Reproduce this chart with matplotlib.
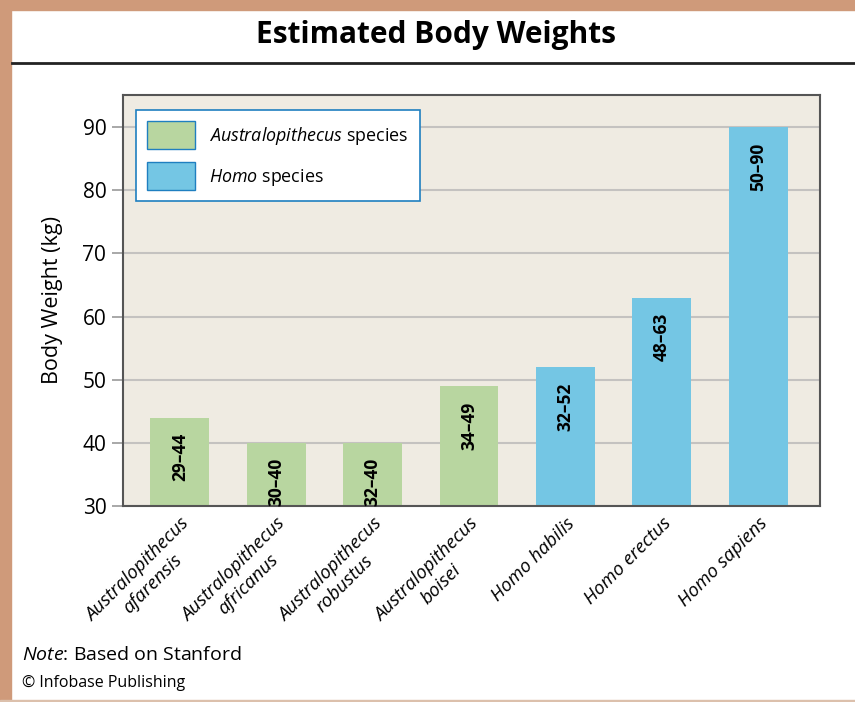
import matplotlib
matplotlib.use("Agg")
import matplotlib.pyplot as plt
from matplotlib.patches import Rectangle, Patch
from matplotlib.lines import Line2D

plt.rcParams['font.family'] = ['Open Sans', 'DejaVu Sans']
plt.rcParams['mathtext.fontset'] = 'custom'
plt.rcParams['mathtext.it'] = 'Open Sans:italic'
plt.rcParams['mathtext.rm'] = 'Open Sans'

species = ["Australopithecus\nafarensis", "Australopithecus\nafricanus",
           "Australopithecus\nrobustus", "Australopithecus\nboisei",
           "Homo habilis", "Homo erectus", "Homo sapiens"]
low_kg = [29, 30, 32, 34, 32, 48, 50]
high_kg = [44, 40, 40, 49, 52, 63, 90]
genus = ["A", "A", "A", "A", "H", "H", "H"]

green = "#b8d6a0"
blue = "#74c6e4"
border = "#cf9a7a"

fig = plt.figure(figsize=(8.55, 7.02), dpi=100)
W, H = 855, 702

# page frame
fig.patches.append(Rectangle((0, 0), 11 / W, 1, transform=fig.transFigure, color=border, zorder=0))
fig.patches.append(Rectangle((0, 1 - 10 / H), 1, 10 / H, transform=fig.transFigure, color=border, zorder=0))
fig.patches.append(Rectangle((0, 0), 1, 2 / H, transform=fig.transFigure, color="#dcc0ac", zorder=0))
fig.lines.append(Line2D([12 / W, 1], [1 - 63 / H] * 2, transform=fig.transFigure, color="#222222", lw=2))

fig.text(436 / W, 1 - 35 / H, "Estimated Body Weights", ha="center", va="center",
         fontsize=21.5, fontweight="bold")

ax = fig.add_axes([123 / W, 1 - 506 / H, (820 - 123) / W, (506 - 95) / H])
ax.set_facecolor("#efebe2")
x = range(len(species))
colors = [green if g == "A" else blue for g in genus]
ax.bar(x, high_kg, width=0.61, color=colors, zorder=2)

for xi, lo, hi in zip(x, low_kg, high_kg):
    ax.annotate(f"{lo}\u2013{hi}", (xi, hi), xytext=(0, -11), textcoords="offset points",
                rotation=90, ha="center", va="top", fontsize=12.5, fontweight="bold", zorder=3)

ax.set_ylim(30, 95.1)
ax.set_xlim(-0.59, 6.64)
ax.set_yticks(range(30, 100, 10))
ax.yaxis.grid(True, color="#c4c2c0", lw=1.5, zorder=1)
ax.tick_params(axis="y", labelsize=15, length=8, width=1.2, color="#999999", pad=4)
ax.tick_params(axis="x", length=0, pad=6)
ax.set_xticks(list(x))
ax.set_xticklabels(species, rotation=45, ha="right", va="top", rotation_mode="anchor",
                   fontsize=13.5, style="italic", multialignment="center")
for s in ax.spines.values():
    s.set_color("#555555")
    s.set_linewidth(1.5)
ax.set_ylabel("Body Weight (kg)", fontsize=15.5, labelpad=14)

handles = [Patch(facecolor=green, edgecolor="#1f7fc0", lw=1),
           Patch(facecolor=blue, edgecolor="#1f7fc0", lw=1)]
leg = ax.legend(handles, [r"$\it{Australopithecus}$ species", r"$\it{Homo}$ species"],
                loc="upper left", bbox_to_anchor=(13 / 697, 1 - 15 / 411), fontsize=12.9,
                fancybox=False, framealpha=1, handlelength=2.65, handleheight=2.0,
                handletextpad=0.8, borderpad=0.62, labelspacing=0.75, borderaxespad=0)
leg.get_frame().set_edgecolor("#1f7fc0")
leg.get_frame().set_linewidth(1.2)

fig.text(22 / W, 1 - 655 / H, r"$\it{Note}$: Based on Stanford", fontsize=14, va="center")
fig.text(22 / W, 1 - 683 / H, "\u00a9 Infobase Publishing", fontsize=11.5, va="center")

fig.savefig("out.png", dpi=100, facecolor="white")
